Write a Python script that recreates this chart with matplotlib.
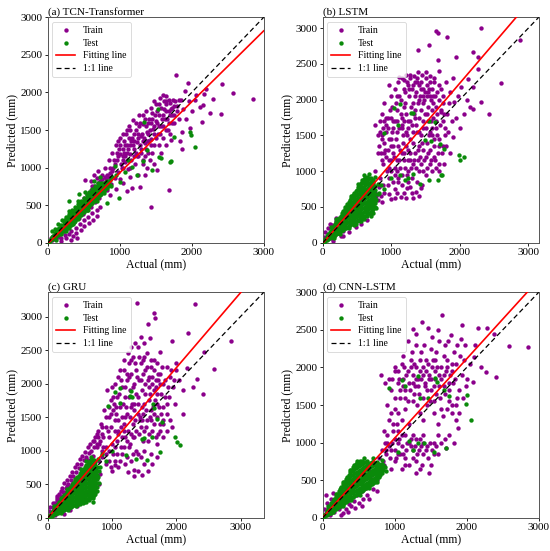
import matplotlib
matplotlib.use('Agg')
import matplotlib.pyplot as plt
import numpy as np

plt.rcParams['font.family'] = ['Liberation Serif', 'DejaVu Serif']

titles = ['(a) TCN-Transformer', '(b) LSTM', '(c) GRU', '(d) CNN-LSTM']
axis_max = [3000, 3150, 3360, 3000]
fit_slope = [0.945, 1.12, 1.12, 1.055]
fit_intercept = [-15, -10, -5, 5]
x_ticks = [0, 1000, 2000, 3000]
y_ticks = [0, 500, 1000, 1500, 2000, 2500, 3000]

# ---------------- (a) TCN-Transformer ----------------
a_train = [
 (40,60),(60,30),(80,90),(100,50),(120,130),(140,80),(150,170),(170,110),(190,60),(200,210),(220,150),(240,100),
 (250,260),(270,190),(290,120),(300,320),(310,230),(330,160),(350,90),(360,380),(370,280),(390,200),(400,130),
 (420,440),(430,330),(450,250),(460,170),(480,500),(490,380),(500,300),(510,220),(530,560),(540,430),(560,340),
 (570,260),(590,620),(600,480),(620,390),(630,300),(650,690),(660,540),(680,430),(690,350),(700,760),(710,600),
 (730,470),(520,840),(600,820),(650,900),(700,950),(260,60),(320,40),(180,20),(410,60),(380,310),(440,370),
 (500,600),(550,650),(600,700),(650,750),(700,800),(750,850),(800,800),(850,880),(620,760),(680,860),
 (720,820),(740,700),(760,900),(780,760),(800,1000),(810,850),(830,700),(850,1100),(860,930),(880,780),(900,1200),
 (910,1000),(930,860),(950,1300),(960,1100),(980,940),(1000,1400),(1010,1180),(1030,1000),(1040,1250),(1060,1350),
 (1070,1080),(1090,1450),(1100,1200),(1110,980),(1130,1550),(1140,1300),(1160,1100),(1170,1400),(1190,1640),
 (1200,1250),(1210,1050),(1230,1500),(1240,1340),(1260,1150),(1270,1700),(1290,1420),(1300,1250),(1320,1100),
 (1330,1580),(1350,1330),(1360,1750),(1380,1480),(1400,1200),(1410,1650),(1430,1380),(1450,1730),(1460,1520),
 (1480,1300),(1500,1620),(1510,1850),(1530,1450),(1550,1700),(1560,1920),(1580,1560),(1600,1970),(1610,1780),
 (1630,1650),(1650,1880),(1670,1500),(1690,1750),(1700,1860),(1720,1600),(1740,1900),(1760,1700),(1785,2236),
 (1800,1820),(1820,1650),(1840,1354),(1715,1367),(1868,1251),(1687,697),(1437,475),(1516,967),(1173,728),
 (1098,684),(1284,745),(1000,850),(1250,900),(1380,1000),(1150,880),(950,720),(1050,800),(870,640),(1320,1050),
 (1420,1100),(1570,1200),(1650,1300),(1600,1400),(1700,1450),(1480,1050),(1350,900),
 (1050,1100),(1080,1150),(1120,1250),(1150,1180),(1180,1300),(1200,1350),(1220,1200),(1250,1400),(1280,1300),
 (1310,1450),(1340,1400),(1370,1550),(1390,1350),(1420,1500),(1440,1600),(1470,1450),(1490,1700),(1520,1600),
 (1540,1550),(1570,1800),(1590,1650),(1620,1880),(1640,1750),(1660,1650),(1680,1900),(1710,1780),(1730,1700),
 (1750,1820),(1770,1880),(900,950),(940,1050),(980,1150),(1020,1050),(1060,1200),(820,900),(860,1000),(760,800),
 (790,870),(740,780),(990,1250),(1130,1400),(1270,1550),(1400,1600),(1480,1880),(1440,1800),(1330,1700),
 (1230,1600),(1100,1500),(1050,1450),(980,1350),
 (920,1100),(960,1200),(1000,1300),(1040,1150),(1080,1300),(1120,1100),(1160,1350),(1200,1450),(1240,1150),
 (1280,1600),(1320,1350),(1360,1250),(1400,1450),(1440,1300),(1480,1550),(1520,1750),(1560,1450),(1600,1550),
 (1640,1850),(1680,1600),(1720,1800),(1760,1600),(1800,1750),(1830,1900),(1150,1500),(1250,1450),(1350,1650),
 (1450,1650),(1550,1850),(1650,1950),(1100,1300),(1200,1150),(1300,1200),(1400,1350),(1500,1400),(1600,1700),
 (1700,1700),(1050,1000),(1150,1000),(1350,1150),(1450,1200),(1550,1300),(1650,1500),
 (1952,2130),(2193,2041),(2420,2112),(2578,1988),(2856,1917),(1966,1882),(2178,1983),(2295,1913),(2160,1837),
 (2258,1722),(2401,1709),(2146,1611),(1901,2019),(2040,1899),(1864,1478),(1980,1522),(2114,1811),(1880,1780),
 (1920,1650),(2000,1750),(2060,1960),(1850,1900),
]
# dense test band: (actual, [predicted values observed at that actual])
a_test_band = [
 (20,[10,25]),(60,[45,65,80]),(100,[75,100,125]),(140,[105,135,165,185]),(180,[135,170,205,230]),
 (220,[160,200,240,280]),(260,[185,230,275,320,345]),(300,[220,265,310,355,385]),(340,[255,300,350,400,430]),
 (380,[290,340,390,440,470]),(420,[330,380,430,480,510]),(460,[370,420,470,520,550]),
 (500,[410,460,510,560,590]),(540,[450,500,550,600,630]),(580,[490,540,590,640,670]),
 (620,[530,580,630,680,710]),(660,[570,620,670,720,750]),(700,[610,660,710,760,790]),
 (740,[650,700,750,800]),(780,[690,740,790]),(820,[730,780,820]),(860,[770,830]),
 (40,[30,50]),(80,[60,90]),(120,[95,120,145]),(160,[125,155,190]),(200,[150,185,225]),(240,[175,215,260,300]),
 (280,[205,250,295,340]),(320,[240,285,330,375]),(360,[275,320,370,415]),(400,[310,360,410,460]),
 (440,[350,400,450,500]),(480,[390,440,490,540]),(520,[430,480,530,580]),(560,[470,520,570,620]),
 (600,[510,560,610,660]),(640,[550,600,650,700]),(680,[590,640,690,740]),(720,[630,680,730,780]),
 (760,[670,720,770]),(800,[710,760,800]),(840,[750,800]),
]
a_test_extra = [
 (296,559),(440,644),(992,599),(936,1021),(821,524),(150,250),(250,160),(350,250),(450,520),(550,430),
 (650,560),(120,30),(60,150),
 (100,180),(200,300),(300,420),(420,560),(520,680),(640,820),(720,880),(180,110),(300,200),(420,320),
 (560,440),(680,560),(780,660),(880,760),(900,880),(950,900),
 (1975,1478),(1994,1433),(2053,1270),(1761,1411),(1552,1145),(1570,1130),(1719,1091),(1700,1070),(1534,1775),
 (1340,1611),(1178,1012),(1330,1092),(1446,967),(1237,898),(1075,943),(1005,810),(1122,1100),(1377,1235),
]

# ---------------- (b) LSTM ----------------
b_train = [
 (20,80),(40,150),(60,50),(80,200),(100,120),(120,60),(130,250),(150,180),(170,100),(190,300),(210,220),(230,140),
 (250,350),(270,260),(290,170),(300,420),(320,320),(340,220),(360,480),(380,380),(400,260),(420,540),(440,420),
 (460,300),(480,600),(500,480),(524,409),(550,680),(570,350),(600,750),(620,560),(672,526),(700,820),(720,620),
 (740,480),(150,20),(260,90),(380,150),(480,220),(560,260),(650,320),(700,400),(750,560),(800,600),(850,650),
 (760,700),(300,90),(200,350),(100,260),
 (770,1651),(800,1500),(830,1700),(860,1800),(880,1600),(900,1950),(930,1750),(964,2200),(980,1850),(1000,2050),
 (1020,1700),(1050,2150),(1070,1950),(1100,2250),(1120,2050),(1140,1800),(1160,2300),(1180,2150),(1200,1950),
 (1220,2350),(1240,2200),(1260,2050),(1280,2300),(1300,2150),(1320,1950),(1340,2250),(1360,2100),(1380,2300),
 (1400,2200),(1420,2050),(1440,2250),(1460,2150),(1480,2000),(1500,2300),(1520,2200),(1540,2100),(1560,2250),
 (1580,2000),(1600,2150),(1620,2250),(1640,2050),(1396,2688),(1552,2767),(1651,2953),(1676,2930),(1813,2874),
 (1676,2549),(1945,2595),(2190,2665),(2264,2589),(2302,3000),(2876,2828),(2596,2232),(2420,1800),(2264,2433),
 (2117,2293),(2018,2176),(2190,2176),(2312,1967),(2190,1875),(1920,1967),(2067,1800),(1896,1479),(1827,1548),
 (1729,1828),(1773,1800),(1700,2400),(1800,2250),(1850,2100),(1750,2050),(1900,2300),(1980,2050),(2100,2000),
 (1650,1900),(1950,1750),(2000,1600),(2150,1900),
 (850,1250),(880,1100),(900,1400),(950,1300),(970,1150),(1000,1450),(1020,1250),(1050,1050),(1080,1550),
 (1100,1350),(1120,1150),(1150,1600),(1170,1400),(1190,1250),(1200,1050),(1230,1500),(1250,1300),(1270,1150),
 (1300,1650),(1320,1400),(1340,1250),(1360,1050),(1380,1550),(1400,1350),(1420,1200),(1440,1500),(1460,1300),
 (1480,1150),(1500,1600),(1520,1400),(1540,1250),(1560,1100),(1600,1500),(1620,1350),(1650,1600),(1680,1250),
 (1700,1450),(1750,1350),(1780,1500),(1640,1150),(1580,1700),(1350,1750),(1250,1700),(1150,1750),(1050,1700),
 (950,1600),(870,1500),(920,1200),(1000,1000),(1100,900),(1300,900),(1400,1000),(1450,800),(1500,950),
 (1600,1000),(1700,1100),(1250,850),
 (868,572),(990,605),(1137,642),(1211,619),(1358,712),(1431,758),(900,700),(950,800),(1050,750),(1100,850),
 (1180,700),(1280,780),(1320,620),(1050,620),(820,780),(780,650),
 (1110,2320),(1190,2280),(1270,2350),(1330,2330),(1390,2380),(1450,2350),(1510,2380),(1570,2330),(1630,2300),
 (1690,2200),(1230,2250),(1310,2200),(1370,2250),(1430,2150),(1490,2100),(1550,2150),(1610,2050),(1670,2100),
 (1730,2150),(1760,1950),(1260,2150),(1340,2050),(1410,2000),(1470,1950),(1530,1900),(1590,1850),(1660,1800),
 (1200,2100),(1140,2000),(1080,1850),(1010,1900),(950,1750),(890,1700),(840,1550),(1030,1600),(1090,1700),
 (1160,1650),(1220,1800),(1280,1700),(1340,1850),(1400,1750),(1460,1700),(1520,1800),(1570,1550),(1630,1450),
 (1690,1350),(1740,1250),(1800,1350),(1860,1250),(1450,1400),(1390,1300),(1330,1150),(1270,1250),(1210,1350),
 (1150,1250),(1090,1150),(1030,1350),(970,1450),(910,1300),(860,1150),(940,1000),(1000,1150),(1060,950),
 (1130,1050),(1230,950),(1290,1050),(1380,850),(1440,1100),(1500,1200),(1560,1300),(1620,1200),(1700,1000),
 (1770,1100),(1150,800),(1230,760),(1080,700),(970,680),(1300,700),(1400,650),
 (820,1350),(860,1450),(900,1250),(930,1550),(960,1050),(990,1350),(1010,1550),(1040,1200),(1070,1450),
 (1110,1600),(1130,1300),(1170,1500),(1190,1700),(1210,1550),(1250,1600),(1270,1450),(1310,1550),(1330,1800),
 (1360,1650),(1410,1550),(1430,1850),(1470,1600),(1490,1800),(1530,1700),(1550,1500),(1590,1600),(1610,1750),
 (1650,1700),(1670,1500),(1710,1650),(1720,1850),(1760,1700),(1790,1600),(1820,1800),(1840,1950),(1880,1700),
 (1700,2000),(1610,1950),(1560,2050),(1080,2050),(990,1750),(920,1650),(1180,1900),(1290,1900),(1390,1950),
 (1460,2050),(1520,2050),(800,1250),(770,1000),(830,900),(880,800),(960,900),(1020,850),(1090,1000),(1160,950),
 (1250,1000),(1320,1100),(1390,1150),(1460,1000),(1520,1050),(1580,1150),(1650,1050),(1250,1150),(1180,1150),
]
b_test_band = [
 (20,[15,30]),(60,[40,70,95]),(100,[60,100,145]),(140,[85,130,175,210]),(180,[110,160,210,260]),
 (220,[135,190,245,300,330]),(260,[160,215,270,325,380]),(300,[180,240,300,360,420,450]),
 (340,[210,270,330,390,450,505]),(380,[230,290,350,410,470,530,570]),(420,[260,320,380,440,500,560,620]),
 (460,[280,340,400,460,520,580,640,690]),(500,[310,370,430,490,550,610,670,730]),
 (540,[330,390,450,510,570,630,690,750,800]),(580,[360,420,480,540,600,660,720,780,840,870]),
 (620,[380,440,500,560,620,680,740,800,860,910]),(660,[410,470,530,590,650,710,770,830,890]),
 (700,[430,490,550,610,670,730,790,850,910]),(740,[470,530,590,650,710,770,830,880]),
 (40,[25,50]),(80,[55,85,115]),(120,[75,115,160]),(160,[100,150,195,235]),(200,[125,180,235,285]),
 (240,[150,205,260,315,350]),(280,[175,235,295,355,410]),(320,[200,260,320,380,440,475]),
 (360,[225,285,345,405,465,535]),(400,[250,310,370,430,490,550,600]),(440,[270,330,390,450,510,570,630,660]),
 (480,[300,360,420,480,540,600,660,720]),(520,[320,380,440,500,560,620,680,740,775]),
 (560,[345,405,465,525,585,645,705,765,830]),(600,[370,430,490,550,610,650,710,770,830,895]),
 (640,[395,455,515,575,635,695,755,815,875,920]),(680,[420,480,540,600,660,720,780,840,900]),
 (720,[450,510,570,630,690,750,810,870]),(760,[500,560,620,680,740,790]),
]
b_test_extra = [
 (600,330),(650,370),(730,420),(780,600),(800,680),(350,480),(250,120),(450,250),(550,300),
 (120,220),(200,330),(320,500),(420,650),(520,820),(600,940),(680,960),(760,920),(800,820),(820,700),
 (780,480),(700,380),(560,300),(480,260),(380,200),(240,130),(170,60),
 (1984,1233),(2067,1200),(2008,1163),(1729,944),(1552,874),(1577,1419),(1554,1702),(1642,1688),(1706,1386),
 (1765,1316),(1490,1432),(1039,1884),(1123,1935),(1284,1814),(1310,1820),(892,1539),(1323,958),(1123,953),
 (1417,819),(1250,907),(1681,874),(1735,949),(1100,1650),(1000,900),(850,800),(900,750),(1200,870),
]

# ---------------- (c) GRU ----------------
c_train = [
 (20,100),(40,160),(60,60),(80,220),(100,140),(120,40),(140,260),(160,180),(180,90),(200,320),(220,230),(240,130),
 (260,380),(280,280),(300,170),(320,440),(340,330),(360,220),(380,500),(400,380),(420,250),(440,560),(460,430),
 (480,300),(500,620),(520,480),(540,350),(560,680),(580,520),(600,380),(620,740),(640,560),(660,400),(680,800),
 (700,600),(720,450),(150,320),(250,60),(350,120),(450,180),(550,280),(650,330),(740,380),(760,700),(800,500),
 (820,650),(300,480),(200,400),
 (80,160),(120,220),(160,260),(200,300),(240,380),(280,440),(320,500),(360,560),(400,620),(440,680),(480,740),
 (520,800),(560,860),(600,900),(640,960),(680,1000),(720,1050),(760,1100),(180,360),(260,520),(340,620),
 (420,760),(500,880),(580,980),(660,1100),(740,1200),(820,1150),(860,1050),(540,920),(620,860),(700,920),
 (450,800),(380,680),(300,560),(220,440),(140,300),(620,1050),(700,1150),(780,1300),(840,1250),
 (720,1150),(760,1250),(800,1100),(830,1400),(860,1200),(880,1600),(900,1350),(930,1900),(950,1500),(980,1750),
 (1000,1950),(1020,1600),(1050,2000),(1080,1800),(1100,2100),(1120,1650),(1150,1950),(1180,2200),(1200,1800),
 (1230,2050),(1260,2300),(1280,1900),(1300,2150),(1330,2400),(1350,2000),(1380,2200),(1400,2550),(1420,2050),
 (1450,2300),(1480,2150),(1500,2400),(1520,2000),(1550,2250),(1580,2100),(1600,2350),(1620,2000),(1650,2200),
 (1680,2050),(1700,2300),(1750,2150),(1800,2000),(1393,3203),(1647,3059),(1674,2976),(1560,2887),(1362,2599),
 (1599,2673),(1752,2465),(1934,2639),(2184,2758),(2298,3184),(2859,2639),(2583,2218),(2412,1847),(2439,2475),
 (2165,2228),(2324,2070),(2262,1945),(1850,2250),(1900,2100),(1950,1950),(2000,2200),(2050,2050),(2100,1900),
 (1880,1800),(1980,1700),(2100,1550),(1900,1450),(1800,1650),(1700,1850),(1500,2600),(1450,2700),(1300,2550),
 (1250,2450),(2000,2300),
 (850,900),(900,1050),(950,1200),(1000,1100),(1050,1300),(1080,950),(1100,1450),(1150,1200),(1180,1050),
 (1200,1500),(1250,1300),(1280,1100),(1300,1650),(1330,1400),(1350,1200),(1380,1000),(1400,1550),(1450,1350),
 (1480,1150),(1500,1700),(1550,1450),(1580,1250),(1600,1600),(1650,1400),(1700,1500),(1750,1300),(1800,1400),
 (1850,1550),(1450,900),(1300,850),(1200,800),(1100,750),(1000,700),(950,850),(1150,950),(1400,700),(1350,620),
 (1250,680),(1050,850),(900,800),(800,850),(1600,950),(1500,1000),(1700,1100),(1472,634),(1336,708),
 (1120,2200),(1180,2350),(1240,2150),(1300,2350),(1360,2300),(1420,2400),(1480,2350),(1540,2450),(1600,2250),
 (1660,2350),(1720,2150),(1780,2250),(1140,2050),(1210,1950),(1270,2100),(1330,1950),(1390,2100),(1450,2050),
 (1510,2200),(1570,1950),(1630,2100),(1690,1950),(1750,2000),(1020,1800),(1060,1650),(960,1650),(900,1500),
 (850,1350),(790,1200),(760,1050),(980,1350),(1040,1450),(1100,1300),(1160,1500),(1220,1650),(1280,1500),
 (1340,1700),(1400,1800),(1460,1650),(1520,1850),(1580,1750),(1640,1650),(1700,1700),(1760,1550),(1820,1800),
 (1860,1700),(1440,1500),(1380,1300),(1320,1200),(1260,1050),(1200,1200),(1140,1050),(1080,1150),(1020,950),
 (960,1000),(900,950),(840,1000),(1500,1300),(1560,1150),(1620,1300),(1680,1200),(1740,1400),(1800,1200),
 (1860,1300),(1930,1350),(1400,950),(1330,950),(1240,900),(1130,850),(1050,780),(980,760),(1560,700),(1500,800),
 (1620,800),(1700,900),
 (940,1300),(990,1550),(1030,1700),(1070,1550),(1110,1850),(1170,1700),(1190,1400),(1230,1550),(1270,1800),
 (1310,1700),(1350,1600),(1370,1850),(1410,1700),(1430,1450),(1470,1900),(1490,1550),(1530,1600),(1560,2050),
 (1590,1850),(1610,1450),(1650,1900),(1670,1750),(1710,2050),(1730,1650),(1770,1850),(1790,1450),(1830,2050),
 (1870,1950),(1920,2200),(1960,2050),(1040,1050),(1090,1250),(1140,1350),(1190,1300),(1230,1150),(1290,1250),
 (1360,1450),(1420,1250),(1470,1450),(1530,1350),(1590,1500),(1660,1550),(1720,1250),
]
c_test_band = [
 (20,[12,25]),(60,[30,55,80]),(100,[50,90,130]),(140,[65,110,150,185]),(180,[85,135,185,235]),
 (220,[100,155,210,265,290]),(260,[120,175,230,285,335]),(300,[140,200,260,320,380]),
 (340,[155,215,275,335,395,440]),(380,[175,235,295,355,415,475,495]),(420,[195,255,315,375,435,495,545]),
 (460,[210,270,330,390,450,510,570,600]),(500,[230,290,350,410,470,530,590,650]),
 (540,[250,310,370,430,490,550,610,670,700]),(580,[265,325,385,445,505,565,625,685,750]),
 (620,[285,345,405,465,525,585,645,705,765,800]),(660,[300,360,420,480,540,600,660,720,780,850]),
 (700,[320,380,440,500,560,620,680,740,800,860]),(740,[360,420,480,540,600,660,720,780,830]),
 (40,[20,40]),(80,[40,70,105]),(120,[60,100,140,160]),(160,[75,120,165,210]),(200,[90,145,200,255]),
 (240,[110,165,220,275,315]),(280,[130,185,240,295,355]),(320,[145,205,265,325,385,420]),
 (360,[165,225,285,345,405,465]),(400,[185,245,305,365,425,485,520]),(440,[200,260,320,380,440,500,560,580]),
 (480,[220,280,340,400,460,520,580,625]),(520,[240,300,360,420,480,540,600,660,680]),
 (560,[260,320,380,440,500,560,620,680,725]),(600,[275,335,395,455,515,575,635,695,755,780]),
 (640,[290,350,410,470,530,590,650,710,770,830]),(680,[310,370,430,490,550,610,670,730,790,855]),
 (720,[340,400,460,520,580,640,700,760,820,860]),(760,[400,460,520,580,640,700,760]),
]
c_test_extra = [
 (600,240),(550,220),(500,200),(712,238),(650,270),(450,190),(350,440),(250,280),(780,600),(800,700),
 (100,180),(200,300),(300,430),(420,580),(520,720),(600,850),(680,900),(780,880),(820,760),(800,520),
 (700,300),(560,230),(440,170),(320,120),(200,70),
 (1045,1876),(1118,1940),(1284,1822),(1633,1698),(1659,1643),(1700,1475),(1778,1426),(1492,1193),(1622,1203),
 (1742,980),(1550,856),(1986,1203),(2012,1129),(2064,1089),(1378,881),(1222,931),(936,1659),(1299,1896),
 (1128,1703),(1466,1179),(1310,1800),(1000,1000),(900,850),(850,950),
]

# ---------------- (d) CNN-LSTM ----------------
d_train = [
 (20,120),(40,60),(60,200),(80,130),(100,40),(120,250),(140,170),(160,80),(180,300),(200,210),(220,110),(240,320),
 (260,150),(280,60),(300,230),(320,120),(340,380),(360,180),(380,280),(400,150),(420,350),(440,220),(460,420),
 (480,300),(500,200),(520,480),(540,350),(560,250),(580,550),(600,400),(620,300),(640,620),(660,450),(680,520),
 (700,380),(720,600),(740,700),(760,500),(780,800),(800,650),(820,900),(840,750),(860,1000),(880,850),(900,1100),
 (920,950),(150,330),(50,300),(250,30),(350,80),(450,130),(550,150),(650,250),(750,350),
 (815,1900),(918,1842),(870,1794),(900,1500),(950,1700),(1000,2000),(1050,1800),(1080,1600),(1100,2050),
 (1120,1850),(1150,1700),(1180,1950),(1200,1800),(1230,2100),(1253,2512),(1260,1900),(1280,1750),(1300,2000),
 (1320,1850),(1340,1650),(1360,2200),(1383,2610),(1400,1900),(1420,1750),(1440,2100),(1467,2521),(1480,1850),
 (1500,1700),(1520,2000),(1540,1550),(1560,1850),(1580,2200),(1602,2499),(1620,1750),(1640,2000),(1663,2698),
 (1680,1900),(1700,2300),(1720,2100),(1750,1800),(1779,2432),(1800,1950),(1820,2200),(1849,1300),(1873,1198),
 (1900,1700),(1924,2379),(1933,2565),(1966,2095),(2000,1850),(2082,1811),(2101,2144),(2152,2530),(2200,2000),
 (2268,1944),(2282,2530),(2385,2441),(2408,1877),(2581,2290),(2851,2277),(1850,2050),(1750,1550),(1650,1450),
 (1550,1400),(1450,1500),(1350,1400),(1250,1550),(1150,1450),(1050,1400),(1300,2300),(1500,2250),(1700,1650),
 (1900,1400),(1950,1600),(1100,1300),(1200,1250),(1400,1300),(1600,1250),(1800,1500),
 (900,1000),(950,900),(1000,1050),(1050,850),(1100,950),(1150,800),(1200,1000),(1250,900),(1300,750),(1350,1050),
 (1400,850),(1450,950),(1500,700),(1550,1000),(1600,850),(1709,922),(1000,750),(1100,650),(1200,700),(1300,600),
 (950,650),(850,700),(1400,1100),(1150,1100),(1050,1150),(1250,1100),(1480,600),(1600,1100),
 (1050,1950),(1120,2150),(1180,2350),(1240,2200),(1300,2450),(1350,1950),(1410,2300),(1460,2050),(1520,2400),
 (1560,2100),(1620,2350),(1680,2150),(1740,2350),(1790,2050),(1860,2300),(1910,2150),(1980,2300),(2040,2050),
 (2120,2300),(1150,1600),(1210,1700),(1270,1650),(1330,1750),(1390,1600),(1450,1700),(1510,1850),(1570,1650),
 (1630,1600),(1690,1750),(1750,1700),(1810,1800),(1870,1600),(1930,1900),(1990,1750),(1010,1600),(960,1850),
 (1070,1700),(1130,2000),(1190,1550),(1250,1800),(1310,1500),(1370,1850),(1430,1950),(1490,1550),(1550,1750),
 (1610,1900),(1670,1350),(1730,1450),(1790,1400),(1850,1500),(980,1150),(1040,1000),(1100,1100),(1160,900),
 (1220,1050),(1280,950),(1340,900),(1400,1000),(1460,800),(1520,900),(1580,950),(1640,1000),(1020,800),
 (1080,850),(1140,700),(1260,800),(1380,700),(940,800),(880,900),(1700,1050),(1760,1100),(1820,1000),(1350,650),
 (960,1000),(1010,900),(1060,1050),(1110,850),(1170,1000),(1230,950),(1290,1050),(1310,850),(1370,950),
 (1430,900),(1490,1000),(1540,850),(1010,1950),(1060,1850),(1160,1900),(1220,2000),(1290,1850),(1350,2100),
 (1400,2000),(1470,1900),(1530,2100),(1590,2000),(1650,1850),(1710,1950),(1770,1900),(1840,1850),(1120,1750),
 (1270,2050),(1420,1800),(1560,1950),(1730,2000),(920,1300),(980,1250),(1030,1250),(850,1150),(1000,1450),
 (950,1400),
]
d_test_band = [
 (20,[15,30]),(60,[40,70,95]),(100,[65,105,150]),(140,[90,135,180,220]),(180,[120,170,220,275]),
 (220,[145,200,255,310,350]),(260,[170,225,280,335,390,415]),(300,[195,250,305,360,415,470]),
 (340,[220,280,340,400,460,520,540]),(380,[250,310,370,430,490,550,605]),
 (420,[275,335,395,455,515,575,635,670]),(460,[300,360,420,480,540,600,660,720]),
 (500,[325,385,445,505,565,625,685,745]),(540,[350,410,470,530,590,650,710,750]),
 (580,[380,440,500,560,620,680,740]),(620,[405,465,525,585,645,705,750]),(660,[430,490,550,610,670,730]),
 (700,[460,520,580,640,700,745]),(740,[485,545,605,665,725]),(780,[540,600,660,720]),(820,[600,660,715]),
 (40,[30,55]),(80,[55,90,120]),(120,[80,120,165,190]),(160,[105,150,200,250]),(200,[130,185,240,295,320]),
 (240,[160,215,270,325,380]),(280,[185,240,295,350,405,445]),(320,[210,265,320,375,430,490,510]),
 (360,[235,295,355,415,475,535,575]),(400,[265,325,385,445,505,565,625,640]),
 (440,[290,350,410,470,530,590,650,700]),(480,[315,375,435,495,555,615,675,735]),
 (520,[340,400,460,520,580,640,700,755]),(560,[365,425,485,545,605,665,725]),
 (600,[390,450,510,570,630,690,745]),(640,[420,480,540,600,660,720]),(680,[445,505,565,625,685,740]),
 (720,[470,530,590,650,710]),(760,[510,570,630,690,740]),(800,[570,630,690]),(840,[640,700]),
]
d_test_extra = [
 (120,60),(200,150),(550,450),(650,530),
 (80,150),(180,320),(280,470),(380,630),(470,760),(580,790),(700,790),(820,770),(860,680),(880,620),
 (760,480),(640,400),(520,300),(400,240),(280,160),(150,80),
 (1545,878),(1998,1633),(1989,1509),(2059,1300),(1719,923),(1103,1833),(1317,1886),(1559,1857),(1592,1813),
 (917,1732),(1755,1615),(1150,1750),(1350,1600),(1320,1000),(1406,1000),(1196,1017),(1250,900),(1050,880),
 (1460,1600),(1680,1700),
]

train_sets = [a_train, b_train, c_train, d_train]
test_bands = [a_test_band, b_test_band, c_test_band, d_test_band]
test_extras = [a_test_extra, b_test_extra, c_test_extra, d_test_extra]


def band_points(band, extra):
    pts = [(x, y) for x, ys in band for y in ys] + list(extra)
    return np.array(pts, dtype=float)


fig = plt.figure(figsize=(5.5, 5.51), dpi=100)
positions = [(0.0867, 0.5595, 0.3927, 0.409), (0.5867, 0.5595, 0.3927, 0.409),
             (0.0867, 0.0604, 0.3927, 0.409), (0.5867, 0.0604, 0.3927, 0.409)]

for i in range(4):
    ax = fig.add_axes(positions[i])
    tr = np.array(train_sets[i], dtype=float)
    te = band_points(test_bands[i], test_extras[i])
    lim = axis_max[i]
    ax.scatter(tr[:, 0], tr[:, 1], s=10, c='#8b008b', linewidths=0, label='Train', zorder=2)
    ax.scatter(te[:, 0], te[:, 1], s=10, c='#0a8a0a', linewidths=0, label='Test', zorder=3)
    xs = np.array([0, lim])
    ax.plot(xs, fit_slope[i] * xs + fit_intercept[i], color='red', lw=1.2, label='Fitting line', zorder=4)
    ax.plot([0, lim], [0, lim], color='black', ls='--', lw=0.9, dashes=(4, 2.5), label='1:1 line', zorder=5)
    ax.set_xlim(0, lim)
    ax.set_ylim(0, lim)
    ax.set_xticks(x_ticks)
    ax.set_yticks(y_ticks)
    ax.tick_params(labelsize=8, length=2.5, width=0.6, pad=1.5)
    ax.set_xlabel('Actual (mm)', fontsize=8.5, labelpad=0.5)
    ax.set_ylabel('Predicted (mm)', fontsize=8.5, labelpad=1)
    ax.set_title(titles[i], loc='left', fontsize=8, pad=2)
    for sp in ax.spines.values():
        sp.set_color('#555555')
        sp.set_linewidth(0.7)
    leg = ax.legend(loc='upper left', fontsize=7, scatterpoints=1, markerscale=1.0,
                    frameon=True, fancybox=True, borderpad=0.4, labelspacing=0.4,
                    handlelength=2.0, handletextpad=0.8, borderaxespad=0.45)
    leg.get_frame().set_edgecolor('#cccccc')
    leg.get_frame().set_linewidth(0.6)

fig.savefig('out.png', dpi=100)
